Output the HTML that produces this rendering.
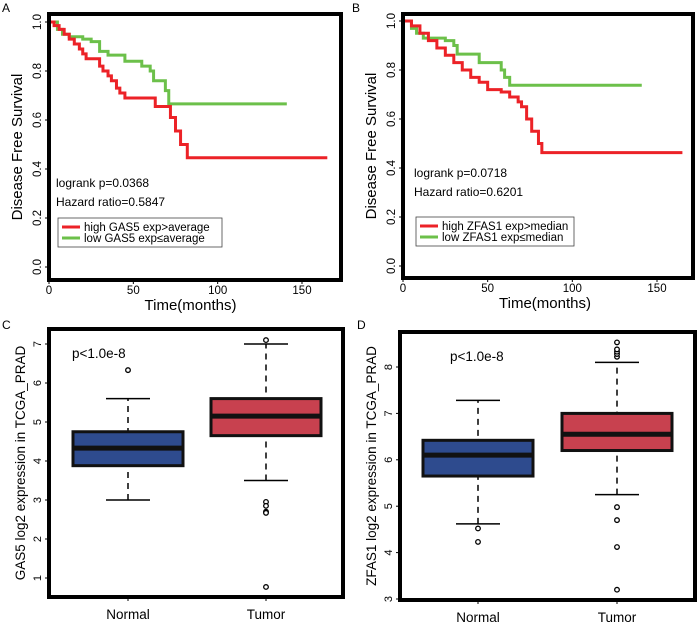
<!DOCTYPE html>
<html><head><meta charset="utf-8"><style>
body{margin:0;background:#fff;width:700px;height:629px;overflow:hidden}
svg{font-family:"Liberation Sans",sans-serif}
</style></head><body>
<svg id="fig" width="700" height="629"></svg>
<script>
// ---- KM data ----
const kmATime_high=[0,3,6,9,12,15,18,20,22,25,30,32,35,37,40,42,45,50,63,72,75,78,80,82,165];
const kmASurv_high=[1,0.985,0.97,0.95,0.93,0.91,0.89,0.87,0.85,0.85,0.82,0.8,0.78,0.76,0.73,0.71,0.69,0.69,0.655,0.61,0.555,0.5,0.5,0.446,0.446];
const kmATime_low=[0,5,8,12,20,25,30,35,45,52,55,60,62,69,71,141];
const kmASurv_low=[1,0.97,0.95,0.94,0.93,0.92,0.88,0.865,0.84,0.84,0.82,0.8,0.76,0.72,0.666,0.666];
const kmBTime_high=[0,5,10,15,20,25,30,35,40,45,50,58,63,68,70,73,76,80,82,165];
const kmBSurv_high=[1,0.98,0.95,0.92,0.89,0.86,0.83,0.8,0.77,0.75,0.72,0.71,0.69,0.67,0.65,0.6,0.55,0.5,0.463,0.463];
const kmBTime_low=[0,5,8,12,25,30,32,45,58,60,63,141];
const kmBSurv_low=[1,0.97,0.95,0.93,0.92,0.9,0.865,0.83,0.8,0.77,0.738,0.738];
const kmXTicks=[0,50,100,150];
const kmYTicks=[0,0.2,0.4,0.6,0.8,1.0];
// ---- Box data ----
const boxCategories=["Normal","Tumor"];
const boxC_stats=[[3.0,3.88,4.33,4.75,5.6],[3.5,4.65,5.15,5.6,7.0]];
const boxC_out=[[6.33],[7.1,2.95,2.85,2.7,2.67,0.77]];
const boxC_ticks=[1,2,3,4,5,6,7];
const boxD_stats=[[4.62,5.65,6.1,6.42,7.28],[5.25,6.2,6.55,7.0,8.1]];
const boxD_out=[[4.52,4.23],[8.22,8.28,8.33,8.38,8.53,4.98,4.7,4.12,3.2]];
const boxD_ticks=[3,4,5,6,7,8];

const NS="http://www.w3.org/2000/svg";
const svg=document.getElementById('fig');
function mk(tag,attrs,parent){const e=document.createElementNS(NS,tag);for(const k in attrs)e.setAttribute(k,attrs[k]);(parent||svg).appendChild(e);return e;}
function txt(s,attrs,parent){const e=mk('text',attrs,parent);e.textContent=s;return e;}

function km(cfg){
  const g=mk('g',{});
  
  
  const sx=t=>cfg.x0+(t-0)*(cfg.x150-cfg.x0)/150;
  const sy=v=>cfg.y0-v*(cfg.y0-cfg.y1);
  const lbl=txt(cfg.letter,{x:cfg.lx,y:12,'font-size':12},g);
  
  cfg.xt.forEach(t=>{mk('line',{x1:sx(t),x2:sx(t),y1:cfg.bb,y2:cfg.bb+4,stroke:'#000'},g);
    const l=txt(t,{x:sx(t),y:cfg.bb+14,'font-size':11.5,'text-anchor':'middle'},g);
    });
  cfg.yt.forEach(v=>{mk('line',{x1:cfg.bl-4,x2:cfg.bl,y1:sy(v),y2:sy(v),stroke:'#000'},g);
    const l=txt(v.toFixed(1),{x:0,y:0,'font-size':11.5,'text-anchor':'middle',transform:`translate(${cfg.bl-8},${sy(v)}) rotate(-90)`},g);
    });
  const xt=txt('Time(months)',{x:(sx(0)+sx(150))/2+15,y:cfg.bb+30,'font-size':15,'text-anchor':'middle'},g);
  
  const yt=txt('Disease Free Survival',{x:0,y:0,'font-size':15,'text-anchor':'middle',transform:`translate(${cfg.bl-27},${(cfg.bt+cfg.bb)/2}) rotate(-90)`},g);
  
  function step(T,S,col,name){let d=`M${sx(T[0])},${sy(S[0])}`;for(let i=1;i<T.length;i++){d+=`H${sx(T[i])}V${sy(S[i])}`;}
    const p=mk('path',{d:d,fill:'none',stroke:col,'stroke-width':3},g);}
  step(cfg.lowT,cfg.lowS,'#6cc04a','low-expression-curve');
  step(cfg.highT,cfg.highS,'#ec2227','high-expression-curve');
  mk('rect',{x:cfg.bl,y:cfg.bt,width:cfg.br-cfg.bl,height:cfg.bb-cfg.bt,fill:'none',stroke:'#000','stroke-width':4},g);
  const a=txt(cfg.p,{x:cfg.tx,y:cfg.ty,'font-size':12},g);
  const b=txt(cfg.hr,{x:cfg.tx,y:cfg.ty+19,'font-size':12},g);
  const lg=mk('g',{},g);
  mk('rect',{x:cfg.lgx,y:cfg.lgy,width:cfg.lgw,height:29,fill:'#fff',stroke:'#444','stroke-width':0.8},lg);
  mk('line',{x1:cfg.lgx+4,x2:cfg.lgx+22,y1:cfg.lgy+9,y2:cfg.lgy+9,stroke:'#ec2227','stroke-width':3},lg);
  mk('line',{x1:cfg.lgx+4,x2:cfg.lgx+22,y1:cfg.lgy+20,y2:cfg.lgy+20,stroke:'#6cc04a','stroke-width':3},lg);
  txt(cfg.l1,{x:cfg.lgx+26,y:cfg.lgy+13,'font-size':11.5},lg);
  txt(cfg.l2,{x:cfg.lgx+26,y:cfg.lgy+24,'font-size':11.5},lg);
}
km({name:'km-plot-a',letter:'A',lx:2,x0:49,x150:302,y0:267,y1:22,bl:49,br:341,bt:14,bb:280,xt:kmXTicks,yt:kmYTicks,
 highT:kmATime_high,highS:kmASurv_high,lowT:kmATime_low,lowS:kmASurv_low,p:'logrank p=0.0368',hr:'Hazard ratio=0.5847',tx:56,ty:187,
 lgx:58,lgy:218,lgw:164,l1:'high GAS5 exp>average',l2:'low GAS5 exp≤average'});
km({name:'km-plot-b',letter:'B',lx:352,x0:403,x150:657,y0:266,y1:21,bl:403,br:693,bt:14,bb:278,xt:kmXTicks,yt:kmYTicks,
 highT:kmBTime_high,highS:kmBSurv_high,lowT:kmBTime_low,lowS:kmBSurv_low,p:'logrank p=0.0718',hr:'Hazard ratio=0.6201',tx:414,ty:177,
 lgx:416,lgy:217,lgw:158,l1:'high ZFAS1 exp>median',l2:'low ZFAS1 exp≤median'});

function box(cfg){
  const g=mk('g',{});
  
  
  const sy=v=>cfg.ya-(v-cfg.va)*(cfg.ya-cfg.yb)/(cfg.vb-cfg.va);
  const lbl=txt(cfg.letter,{x:cfg.lx,y:329,'font-size':12},g);
  
  cfg.ticks.forEach(v=>{mk('line',{x1:cfg.bl-4,x2:cfg.bl,y1:sy(v),y2:sy(v),stroke:'#000'},g);
    const l=txt(v,{x:0,y:0,'font-size':11,'text-anchor':'middle',transform:`translate(${cfg.bl-8},${sy(v)}) rotate(-90)`},g);
    });
  const yt=txt(cfg.ytitle,{x:0,y:0,'font-size':13.5,'text-anchor':'middle',transform:`translate(${cfg.bl-24},${(cfg.bt+cfg.bb)/2}) rotate(-90)`},g);
  
  boxCategories.forEach((c,i)=>{
    const cx=cfg.cx[i],s=cfg.stats[i],hw=55,col=i?'#c8414f':'#2e4b8e';
    mk('line',{x1:cx,x2:cx,y1:sy(s[0]),y2:sy(s[4]),stroke:'#000','stroke-width':1.5,'stroke-dasharray':'6,5'},g);
    mk('line',{x1:cx-22,x2:cx+22,y1:sy(s[0]),y2:sy(s[0]),stroke:'#000','stroke-width':1.5},g);
    mk('line',{x1:cx-22,x2:cx+22,y1:sy(s[4]),y2:sy(s[4]),stroke:'#000','stroke-width':1.5},g);
    const r=mk('rect',{x:cx-hw,y:sy(s[3]),width:2*hw,height:sy(s[1])-sy(s[3]),fill:col,stroke:'#111','stroke-width':3},g);
    
    mk('line',{x1:cx-hw,x2:cx+hw,y1:sy(s[2]),y2:sy(s[2]),stroke:'#111','stroke-width':5},g);
    cfg.out[i].forEach(v=>{const o=mk('circle',{cx:cx,cy:sy(v),r:2.3,fill:'#fff',stroke:'#000','stroke-width':1.3},g);
      });
    mk('line',{x1:cx,x2:cx,y1:cfg.bb,y2:cfg.bb+4,stroke:'#000'},g);
    const l=txt(c,{x:cx,y:cfg.bb+22,'font-size':13.5,'text-anchor':'middle'},g);
    
  });
  mk('rect',{x:cfg.bl,y:cfg.bt,width:cfg.br-cfg.bl,height:cfg.bb-cfg.bt,fill:'none',stroke:'#000','stroke-width':4},g);
  const p=txt('p<1.0e-8',{x:cfg.px,y:cfg.py,'font-size':13.5},g);
}
box({name:'boxplot-c',letter:'C',lx:2,bl:49,br:343,bt:329,bb:597,ya:578,va:1,yb:344,vb:7,ticks:boxC_ticks,stats:boxC_stats,out:boxC_out,
 cx:[128,266],ytitle:'GAS5 log2 expression in TCGA_PRAD',px:72,py:358});
box({name:'boxplot-d',letter:'D',lx:357,bl:400,br:695,bt:332,bb:600,ya:599,va:3,yb:367,vb:8,ticks:boxD_ticks,stats:boxD_stats,out:boxD_out,
 cx:[478,617],ytitle:'ZFAS1 log2 expression in TCGA_PRAD',px:450,py:361});
</script>
</body></html>
